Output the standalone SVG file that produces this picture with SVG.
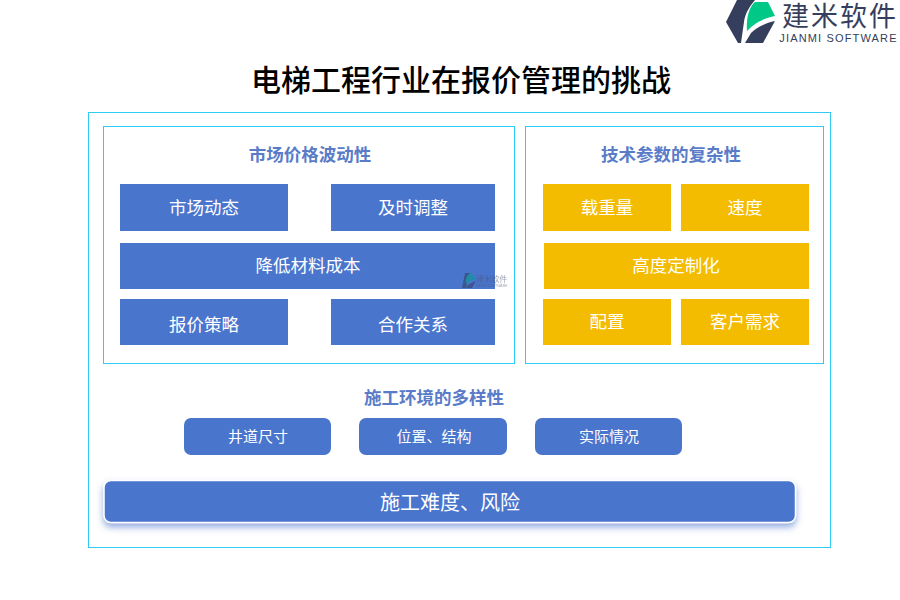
<svg xmlns="http://www.w3.org/2000/svg" width="900" height="600" viewBox="0 0 900 600">
<defs>
<filter id="sh" x="-5%" y="-30%" width="110%" height="170%"><feDropShadow dx="0" dy="4" stdDeviation="3.5" flood-color="#4a75cc" flood-opacity="0.6"/></filter>
</defs>
<style>
text{font-family:"Liberation Serif","Noto Sans CJK SC",serif;text-anchor:middle}
.frame{fill:none;stroke:#2ecbf5;stroke-width:1}
.b{fill:#4a75cd}
.y{fill:#f4bc00}
.t{fill:#fff;font-size:17.500px}
.s{fill:#fff;font-size:15px}
.h{fill:#5a7cc8;font-size:17.500px;font-weight:700}
</style>
<rect width="900" height="600" fill="#fff"/>
<g id="logo">
<path d="M737 0H755C749 7 745 14 744 22C743 29 742 36 741 43H738L726 22Z" fill="#353e5c"/>
<path d="M747 31C746 18 749 7 755 2H768L775 16C764 18 754 23 747 31Z" fill="#00c988"/>
<path d="M775 21L763 43H745L751 33C757 27 766 23 775 21Z" fill="#353e5c"/>
<text x="840" y="25.500" style="font-family:'Noto Sans CJK SC',sans-serif;font-size:27px;letter-spacing:2px" fill="#353e5c">建米软件</text>
<text x="838.500" y="42" style="font-family:'Liberation Sans',sans-serif;font-size:11px;letter-spacing:1.150px" fill="#353e5c">JIANMI SOFTWARE</text>
</g>
<text id="title" x="461" y="91" style="font-size:30px;font-weight:500" fill="#000">电梯工程行业在报价管理的挑战</text>
<rect id="outer-frame" class="frame" x="88.500" y="112.500" width="742" height="435"/>
<g id="market">
<rect class="frame" x="103.500" y="126.500" width="411" height="237"/>
<text class="h" x="310" y="161">市场价格波动性</text>
</g>
<g id="n-market-trends"><rect class="b" x="120" y="184" width="168" height="47"/><text class="t" x="204" y="213.500">市场动态</text></g>
<g id="n-timely"><rect class="b" x="331" y="184" width="164" height="47"/><text class="t" x="413" y="213.500">及时调整</text></g>
<g id="n-cost"><rect class="b" x="120" y="243" width="375" height="46"/><text class="t" x="308" y="271.500">降低材料成本</text></g>
<g id="n-strategy"><rect class="b" x="120" y="299" width="168" height="46"/><text class="t" x="204" y="330.500">报价策略</text></g>
<g id="n-partner"><rect class="b" x="331" y="299" width="164" height="46"/><text class="t" x="413" y="330.500">合作关系</text></g>
<g id="watermark" opacity="0.55">
<path d="M465 273H470L466 288H462Z" fill="#353e5c"/>
<path d="M466 284C465 278 468 274 471 273L476 279C472 280 468 282 466 284Z" fill="#00a08a"/>
<path d="M476 281L472 288H466L468 285C470 283 473 282 476 281Z" fill="#353e5c"/>
<text x="491.500" y="281.500" style="font-family:'Noto Sans CJK SC',sans-serif;font-size:8px;letter-spacing:-0.200px" fill="#4a5470">建米软件</text>
<text x="491.500" y="287" style="font-family:'Liberation Sans',sans-serif;font-size:3.500px" fill="#4a5470">JIANMI SOFTWARE</text>
</g>
<g id="tech">
<rect class="frame" x="525.500" y="126.500" width="298" height="237"/>
<text class="h" x="671" y="161">技术参数的复杂性</text>
</g>
<g id="n-load"><rect class="y" x="543" y="184" width="128" height="47"/><text class="t" x="607" y="213.500">载重量</text></g>
<g id="n-speed"><rect class="y" x="681" y="184" width="128" height="47"/><text class="t" x="745" y="213.500">速度</text></g>
<g id="n-height"><rect class="y" x="544" y="243" width="265" height="46"/><text class="t" x="676" y="271.500">高度定制化</text></g>
<g id="n-config"><rect class="y" x="543" y="299" width="128" height="46"/><text class="t" x="607" y="327.500">配置</text></g>
<g id="n-demand"><rect class="y" x="681" y="299" width="128" height="46"/><text class="t" x="745" y="327.500">客户需求</text></g>
<text id="env-title" class="h" x="434" y="404">施工环境的多样性</text>
<g id="n-shaft"><rect class="b" x="184" y="418" width="147" height="37" rx="7"/><text class="s" x="258" y="442">井道尺寸</text></g>
<g id="n-position"><rect class="b" x="359" y="418" width="148" height="37" rx="7"/><text class="s" x="434" y="442">位置、结构</text></g>
<g id="n-actual"><rect class="b" x="535" y="418" width="147" height="37" rx="7"/><text class="s" x="609" y="442">实际情况</text></g>
<g id="n-risk"><rect class="b" x="104" y="480.500" width="691.500" height="42" rx="7" stroke="#fff" stroke-width="1.500" filter="url(#sh)"/><text x="450" y="509.500" style="font-size:20px" fill="#fff">施工难度、风险</text></g>
<g id="connectors"/>
</svg>
